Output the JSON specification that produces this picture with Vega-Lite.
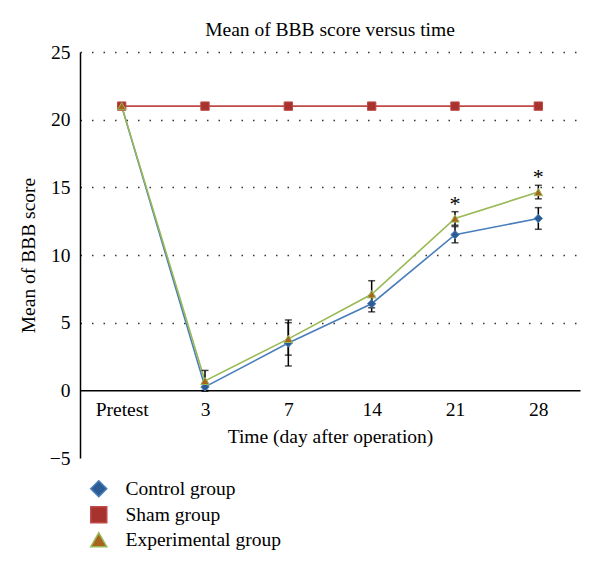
{
  "$schema": "https://vega.github.io/schema/vega-lite/v6.json",
  "width": 500,
  "height": 406,
  "autosize": {"type": "none"},
  "padding": {"left": 80, "top": 52, "right": 20, "bottom": 114},
  "background": "white",
  "config": {
    "font": "Liberation Serif",
    "view": {"stroke": null},
    "axis": {"labelFontSize": 19.5, "titleFontSize": 19.5, "titleFontWeight": "normal", "labelColor": "black", "titleColor": "black", "ticks": false, "domainColor": "black", "domainWidth": 1.5}
  },
  "title": {"text": "Mean of BBB score versus time", "fontSize": 19.5, "fontWeight": "normal", "color": "black", "offset": 2, "anchor": "middle"},
  "data": {"values": [
    {"time": "Pretest", "group": "Control group", "score": 21, "err": 0},
    {"time": "3", "group": "Control group", "score": 0.25, "err": 0.25},
    {"time": "7", "group": "Control group", "score": 3.5, "err": 1.7},
    {"time": "14", "group": "Control group", "score": 6.4, "err": 0.6},
    {"time": "21", "group": "Control group", "score": 11.5, "err": 0.6},
    {"time": "28", "group": "Control group", "score": 12.7, "err": 0.8},
    {"time": "Pretest", "group": "Sham group", "score": 21, "err": 0},
    {"time": "3", "group": "Sham group", "score": 21, "err": 0},
    {"time": "7", "group": "Sham group", "score": 21, "err": 0},
    {"time": "14", "group": "Sham group", "score": 21, "err": 0},
    {"time": "21", "group": "Sham group", "score": 21, "err": 0},
    {"time": "28", "group": "Sham group", "score": 21, "err": 0},
    {"time": "Pretest", "group": "Experimental group", "score": 21, "err": 0},
    {"time": "3", "group": "Experimental group", "score": 0.7, "err": 0.77},
    {"time": "7", "group": "Experimental group", "score": 3.8, "err": 1.2},
    {"time": "14", "group": "Experimental group", "score": 7.1, "err": 1.0},
    {"time": "21", "group": "Experimental group", "score": 12.7, "err": 0.5},
    {"time": "28", "group": "Experimental group", "score": 14.65, "err": 0.5}
  ]},
  "encoding": {
    "x": {"field": "time", "type": "ordinal", "sort": ["Pretest", "3", "7", "14", "21", "28"],
      "scale": {"type": "point", "padding": 0.5},
      "axis": {"orient": "bottom", "offset": -67.7, "labelAngle": 0, "labelPadding": 10, "title": "Time (day after operation)", "titlePadding": 9, "grid": false}},
    "y": {"field": "score", "type": "quantitative",
      "scale": {"domain": [-5, 25], "nice": false, "zero": false},
      "axis": {"title": "Mean of BBB score", "values": [-5, 0, 5, 10, 15, 20, 25], "labelPadding": 10, "titlePadding": 11,
        "grid": true, "gridDash": [1.5, 10], "gridColor": "#333", "gridWidth": 1.5,
        "gridOpacity": {"condition": {"test": "datum.value <= 0", "value": 0}, "value": 1}}}
  },
  "layer": [
    {
      "mark": {"type": "line", "strokeWidth": 1.6},
      "encoding": {
        "stroke": {"field": "group", "type": "nominal",
          "scale": {"domain": ["Control group", "Sham group", "Experimental group"], "range": ["#4A7EBB", "#BE4B48", "#98B954"]},
          "legend": {"orient": "none", "legendX": 1, "legendY": 427, "direction": "vertical", "title": null,
            "padding": 0, "symbolSize": 256, "symbolOffset": 8, "labelOffset": 17, "labelFontSize": 19.5, "labelColor": "black",
            "rowPadding": 3, "symbolStrokeWidth": 1.5, "labelLimit": 300,
            "encode": {"symbols": {"update": {
              "shape": {"signal": "datum.value === 'Control group' ? 'M-2,0L-0.62,0M0.62,0L2,0M0,-0.62L0.62,0L0,0.62L-0.62,0Z' : datum.value === 'Sham group' ? 'M-2,0L-0.6,0M0.6,0L2,0M-0.6,-0.6L0.6,-0.6L0.6,0.6L-0.6,0.6Z' : 'M-2,0L-0.62,0M0.62,0L2,0M0,-0.62L0.65,0.55L-0.65,0.55Z'"},
              "fill": {"signal": "datum.value === 'Control group' ? '#2C5C93' : datum.value === 'Sham group' ? '#A8322E' : '#A8631E'"},
              "stroke": {"signal": "datum.value === 'Control group' ? '#4A7EBB' : datum.value === 'Sham group' ? '#BE4B48' : '#98B954'"},
              "fillOpacity": {"value": 1},
              "strokeOpacity": {"value": 1},
              "opacity": {"value": 1},
              "strokeWidth": {"value": 1.5}
            }}}}
        }
      }
    },
    {
      "transform": [{"filter": "datum.err > 0"}],
      "mark": {"type": "errorbar", "ticks": {"size": 7}, "color": "black", "thickness": 1.5},
      "encoding": {"yError": {"field": "err"}}
    },
    {
      "mark": {"type": "point", "filled": true, "size": 70, "strokeWidth": 1, "opacity": 1},
      "encoding": {
        "shape": {"field": "group", "type": "nominal", "scale": {"domain": ["Control group", "Sham group", "Experimental group"], "range": ["diamond", "square", "triangle-up"]}, "legend": null},
        "fill": {"field": "group", "type": "nominal", "scale": {"domain": ["Control group", "Sham group", "Experimental group"], "range": ["#2C5C93", "#A8322E", "#A8631E"]}, "legend": null},
        "stroke": {"field": "group", "type": "nominal"}
      }
    },
    {
      "data": {"values": [
        {"time": "21", "score": 14.0, "mark": "*"},
        {"time": "28", "score": 16.0, "mark": "*"}
      ]},
      "mark": {"type": "text", "fontSize": 22, "baseline": "middle", "dy": 3, "color": "black"},
      "encoding": {"text": {"field": "mark"}}
    }
  ]
}
